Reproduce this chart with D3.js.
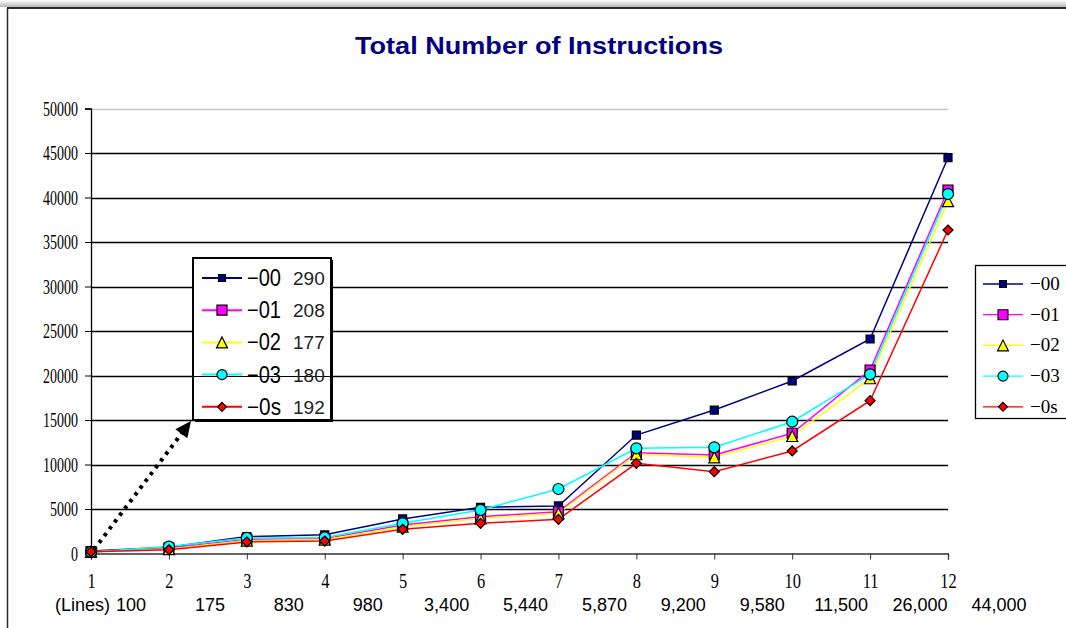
<!DOCTYPE html>
<html>
<head>
<meta charset="utf-8">
<script src="https://cdn.jsdelivr.net/npm/d3@7"></script>
<style>
  html, body { margin: 0; padding: 0; background: #fff; }
  svg { display: block; }
</style>
</head>
<body>
<svg id="chart" width="1066" height="628"></svg>
<script>
// ---- data ----------------------------------------------------------
const runs = [1, 2, 3, 4, 5, 6, 7, 8, 9, 10, 11, 12];
const lineCounts = ["100", "175", "830", "980", "3,400", "5,440", "5,870",
                    "9,200", "9,580", "11,500", "26,000", "44,000"];
const seriesNames = ["\u221200", "\u221201", "\u221202", "\u221203", "\u22120s"];
const o0 = [290, 700, 1900, 2100, 3880, 5190, 5340, 13310, 16120, 19380, 24100, 44470];
const o1 = [208, 600, 1600, 1650, 3200, 4130, 4700, 11330, 11070, 13510, 20620, 40840];
const o2 = [177, 500, 1450, 1550, 3010, 3950, 4520, 11150, 10810, 13200, 19690, 39600];
const o3 = [180, 780, 1750, 1800, 3390, 4890, 7250, 11820, 11930, 14810, 20130, 40390];
const os = [192, 420, 1300, 1400, 2720, 3390, 3840, 10130, 9190, 11520, 17170, 36350];
const yTicks = [0, 5000, 10000, 15000, 20000, 25000, 30000, 35000, 40000, 45000, 50000];

const seriesValues = [o0, o1, o2, o3, os];

// ---- styles ----------------------------------------------------------
const styles = [
  { color: "#000080", shape: "square",   size: 8,  legendSize: 7 },
  { color: "#ff00ff", shape: "square",   size: 10, legendSize: 10 },
  { color: "#ffff00", shape: "triangle", size: 11, legendSize: 11 },
  { color: "#00ffff", shape: "circle",   size: 11, legendSize: 10 },
  { color: "#ff0000", shape: "diamond",  size: 10, legendSize: 9 }
];

function markerPath(shape, s) {
  const h = s / 2;
  switch (shape) {
    case "square":   return `M${-h},${-h}H${h}V${h}H${-h}Z`;
    case "triangle": return `M0,${-h}L${h},${h}L${-h},${h}Z`;
    case "diamond":  return `M0,${-h}L${h},0L0,${h}L${-h},0Z`;
    default:         return `M${h},0A${h},${h} 0 1,1 ${-h},0A${h},${h} 0 1,1 ${h},0Z`;
  }
}

const svg = d3.select("#chart");
const serif = "Liberation Serif, Times New Roman, serif";
const sans = "Liberation Sans, Arial, sans-serif";

// ---- frame -----------------------------------------------------------
const defs = svg.append("defs");
const grad = defs.append("linearGradient").attr("id", "topShade")
  .attr("x1", 0).attr("y1", 0).attr("x2", 0).attr("y2", 1);
grad.append("stop").attr("offset", "0%").attr("stop-color", "#ffffff");
grad.append("stop").attr("offset", "100%").attr("stop-color", "#b8b8b8");
svg.append("rect").attr("x", 0).attr("y", 0).attr("width", 1066).attr("height", 7)
  .attr("fill", "url(#topShade)");
svg.append("line").attr("x1", 7).attr("x2", 1066).attr("y1", 8).attr("y2", 8)
  .attr("stroke", "#2a2a2a").attr("stroke-width", 2);
svg.append("line").attr("x1", 7.5).attr("x2", 7.5).attr("y1", 8).attr("y2", 628)
  .attr("stroke", "#2a2a2a").attr("stroke-width", 1.5);

// ---- title -----------------------------------------------------------
svg.append("text")
  .attr("x", 539).attr("y", 54)
  .attr("text-anchor", "middle")
  .attr("font-family", sans)
  .attr("font-weight", "bold")
  .attr("font-size", 24)
  .attr("fill", "#000080")
  .attr("textLength", 368)
  .attr("lengthAdjust", "spacingAndGlyphs")
  .text("Total Number of Instructions");

// ---- scales ----------------------------------------------------------
const x = d3.scaleLinear().domain([1, 12]).range([91, 948]);
const y = d3.scaleLinear().domain([0, 50000]).range([553.5, 108.5]);
// the line-count row is typed slightly wider than the run spacing
const xCount = d3.scaleLinear().domain([1, 12]).range([131, 999]);

// ---- gridlines -------------------------------------------------------
svg.append("g").selectAll("line").data(yTicks.filter(d => d > 0)).join("line")
  .attr("x1", x(1)).attr("x2", x(12))
  .attr("y1", d => Math.round(y(d)) + 0.5).attr("y2", d => Math.round(y(d)) + 0.5)
  .attr("stroke", d => d === 50000 ? "#c8c8c8" : "#000")
  .attr("stroke-width", 1.3);

// ---- y axis ----------------------------------------------------------
const ySx = 0.7;
const yAxis = svg.append("g")
  .attr("transform", `translate(${x(1)},0)`)
  .call(d3.axisLeft(y).tickValues(yTicks).tickSize(6).tickFormat(d3.format("d")));
yAxis.attr("font-size", null).attr("font-family", null);
yAxis.select(".domain").attr("stroke", "#000").attr("stroke-width", 1.3);
yAxis.selectAll(".tick line").attr("stroke", "#000");
yAxis.selectAll(".tick text")
  .style("font-family", serif)
  .style("font-size", "20px")
  .attr("fill", "#000")
  .attr("x", -13 / ySx)
  .attr("dy", "0.34em")
  .attr("transform", `scale(${ySx},1)`);

// ---- x axis ----------------------------------------------------------
const xAxis = svg.append("g")
  .attr("transform", `translate(0,${y(0)})`)
  .call(d3.axisBottom(x).tickValues(runs).tickSize(6).tickFormat(d3.format("d")));
xAxis.attr("font-size", null).attr("font-family", null);
xAxis.select(".domain").attr("stroke", "#333").attr("stroke-width", 1.3);
xAxis.selectAll(".tick line").attr("stroke", "#333");
xAxis.selectAll(".tick text")
  .style("font-family", serif)
  .style("font-size", "20px")
  .attr("fill", "#000")
  .attr("y", 0).attr("dy", 0)
  .attr("transform", "translate(0,34) scale(0.82,1)");

// line counts under the run numbers
const countRow = svg.append("g")
  .attr("font-family", sans)
  .attr("font-size", 18)
  .attr("fill", "#000");
countRow.selectAll("text.count").data(lineCounts).join("text")
  .attr("class", "count")
  .attr("x", (d, i) => xCount(runs[i]))
  .attr("y", 611)
  .attr("text-anchor", "middle")
  .text(d => d);
countRow.append("text")
  .attr("x", xCount(1) - 21)
  .attr("y", 611)
  .attr("text-anchor", "end")
  .text("(Lines)");

// ---- series ----------------------------------------------------------
const line = d3.line().x((d, i) => x(runs[i])).y(d => y(d));
const plot = svg.append("g");
seriesValues.forEach((vals, k) => {
  plot.append("path")
    .attr("d", line(vals))
    .attr("fill", "none")
    .attr("stroke", styles[k].color)
    .attr("stroke-width", 1.5);
});
seriesValues.forEach((vals, k) => {
  plot.append("g").selectAll("path").data(vals).join("path")
    .attr("transform", (d, i) => `translate(${x(runs[i])},${y(d)})`)
    .attr("d", markerPath(styles[k].shape, styles[k].size))
    .attr("fill", styles[k].color)
    .attr("stroke", "#000")
    .attr("stroke-width", 1.2);
});

// ---- inset legend with first-run counts --------------------------------
const inset = svg.append("g");
const insetBox = { x0: 193, y0: 258, x1: 331, y1: 420 };
inset.append("rect")
  .attr("x", insetBox.x0 + 2).attr("y", insetBox.y0 + 2)
  .attr("width", insetBox.x1 - insetBox.x0).attr("height", insetBox.y1 - insetBox.y0)
  .attr("fill", "#000");
inset.append("rect")
  .attr("x", insetBox.x0).attr("y", insetBox.y0)
  .attr("width", insetBox.x1 - insetBox.x0).attr("height", insetBox.y1 - insetBox.y0)
  .attr("fill", "#fff").attr("stroke", "#000").attr("stroke-width", 2);
// the 20000 gridline shows through the inset
inset.append("line")
  .attr("x1", insetBox.x0).attr("x2", insetBox.x1)
  .attr("y1", Math.round(y(20000)) + 0.5).attr("y2", Math.round(y(20000)) + 0.5)
  .attr("stroke", "#000").attr("stroke-width", 1.2);
seriesNames.forEach((name, k) => {
  const cy = 278 + k * 32.2;
  const g = inset.append("g");
  g.append("line").attr("x1", 202).attr("x2", 242).attr("y1", cy).attr("y2", cy)
    .attr("stroke", styles[k].color).attr("stroke-width", 2);
  g.append("path").attr("transform", `translate(222,${cy})`)
    .attr("d", markerPath(styles[k].shape, styles[k].legendSize))
    .attr("fill", styles[k].color).attr("stroke", "#000").attr("stroke-width", 1.2);
  g.append("text").attr("x", 247).attr("y", cy + 8)
    .attr("font-family", sans)
    .attr("font-size", 23).attr("fill", "#000")
    .attr("textLength", 34)
    .attr("lengthAdjust", "spacingAndGlyphs")
    .text(name);
  g.append("text").attr("x", 293).attr("y", cy + 7)
    .attr("font-family", sans)
    .attr("font-size", 19).attr("fill", "#222")
    .text(seriesValues[k][0]);
});

// dotted arrow from the first run to the inset
const ax0 = x(1) + 3, ay0 = y(0) - 4;
const ax1 = insetBox.x0 - 2, ay1 = insetBox.y1 + 1;
const ang = Math.atan2(ay1 - ay0, ax1 - ax0);
svg.append("line")
  .attr("x1", ax0).attr("y1", ay0)
  .attr("x2", ax1 - 12 * Math.cos(ang)).attr("y2", ay1 - 12 * Math.sin(ang))
  .attr("stroke", "#000").attr("stroke-width", 4)
  .attr("stroke-dasharray", "3.5,5");
svg.append("path")
  .attr("transform", `translate(${ax1},${ay1}) rotate(${ang * 180 / Math.PI})`)
  .attr("d", "M0,0L-16,-7.5L-16,7.5Z")
  .attr("fill", "#000");

// ---- side legend -----------------------------------------------------
const legend = svg.append("g");
legend.append("rect").attr("x", 975.5).attr("y", 265.5).attr("width", 100).attr("height", 153)
  .attr("fill", "#fff").attr("stroke", "#000").attr("stroke-width", 1.3);
seriesNames.forEach((name, k) => {
  const cy = 284 + k * 30.7;
  legend.append("line").attr("x1", 983).attr("x2", 1023).attr("y1", cy).attr("y2", cy)
    .attr("stroke", styles[k].color).attr("stroke-width", 1.3);
  legend.append("path").attr("transform", `translate(1003,${cy})`)
    .attr("d", markerPath(styles[k].shape, styles[k].legendSize))
    .attr("fill", styles[k].color).attr("stroke", "#000").attr("stroke-width", 1.1);
  legend.append("text").attr("x", 1030).attr("y", cy + 6)
    .attr("font-family", serif)
    .attr("font-size", 19).attr("fill", "#000")
    .text(name);
});
</script>
</body>
</html>
